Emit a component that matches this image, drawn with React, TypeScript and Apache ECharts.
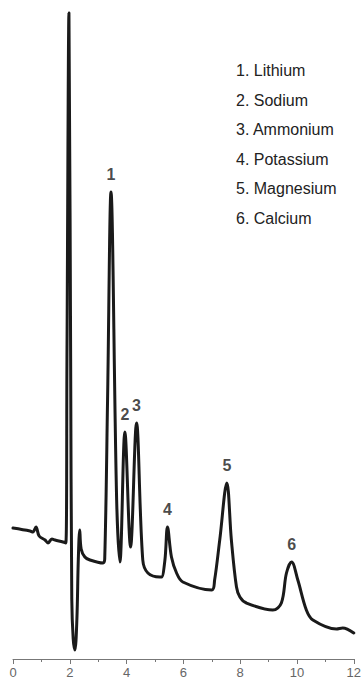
import React, { useEffect, useRef } from "react";
import * as echarts from "echarts";

// retention time (min)
const times = [
  0, 0.6, 0.7, 0.81, 0.92, 1.13, 1.23, 1.37, 1.48, 1.76, 1.86,
  1.9, 1.97, 2.03, 2.07, 2.12, 2.18, 2.25, 2.3, 2.35, 2.4, 2.53, 2.71, 3.17, 3.23,
  3.33, 3.45, 3.65, 3.765, 3.94, 4.14, 4.35, 4.57, 4.75, 5.17, 5.23, 5.35, 5.44, 5.58, 5.76, 5.98,
  7.0, 7.1, 7.28, 7.53, 7.69, 7.87, 7.99, 8.22, 9.15, 9.45, 9.63, 9.81, 10.03, 10.33, 10.56,
  11.39, 11.61, 12.0,
];
// detector response (arbitrary units)
const response = [
  131, 128, 127, 132, 123, 119, 116, 120, 119, 117, 116,
  300, 646, 300, 60, 20, 9, 40, 100, 129, 110, 102, 99, 96, 100,
  259, 467, 159, 97, 227, 112, 236, 99, 86, 82, 82, 99, 132, 102, 86, 77,
  69, 79, 119, 176, 119, 72, 62, 56, 49, 56, 86, 97, 79, 49, 39,
  30, 31, 26,
];

const peakNumbers = ["1", "2", "3", "4", "5", "6"];
const peakTimes = [3.45, 3.94, 4.35, 5.44, 7.53, 9.81];
const peakHeights = [467, 227, 236, 132, 176, 97];
const peakNames = ["Lithium", "Sodium", "Ammonium", "Potassium", "Magnesium", "Calcium"];

const xTicks = [0, 2, 4, 6, 8, 10, 12];

export default function App() {
  const ref = useRef<HTMLDivElement>(null);
  useEffect(() => {
    if (!ref.current) return;
    const chart = echarts.init(ref.current, null, { renderer: "svg" });
    const font = "'Liberation Sans', Arial, Helvetica, sans-serif";
    chart.setOption({
      animation: false,
      grid: { left: 13, right: 10, top: 0, bottom: 20 },
      xAxis: {
        type: "value",
        min: xTicks[0],
        max: xTicks[xTicks.length - 1],
        interval: xTicks[1] - xTicks[0],
        axisLine: { show: true, lineStyle: { color: "#777", width: 1 } },
        axisTick: { show: true, length: 5, lineStyle: { color: "#777" } },
        minorTick: { show: true, splitNumber: 2, length: 3, lineStyle: { color: "#777" } },
        splitLine: { show: false },
        minorSplitLine: { show: false },
        axisLabel: { fontSize: 13, color: "#666", margin: 7, fontFamily: font },
      },
      yAxis: { type: "value", min: 0, max: 659, show: false },
      series: [
        {
          type: "line",
          data: times.map((t, i) => [t, response[i]]),
          showSymbol: false,
          symbol: "none",
          smooth: 0.35,
          lineStyle: { color: "#1a1a1a", width: 3, join: "round", cap: "round" },
          clip: false,
        },
        {
          type: "scatter",
          data: peakTimes.map((t, i) => ({ name: peakNumbers[i], value: [t, peakHeights[i]] })),
          symbolSize: 0,
          label: {
            show: true,
            position: "top",
            distance: 10,
            formatter: "{b}",
            fontSize: 16,
            fontWeight: "bold",
            color: "#1a1a1a",
            fontFamily: font,
          },
        },
      ],
      graphic: peakNames.map((n, i) => ({
        type: "text",
        left: 236,
        top: 72 + i * 29.6 - 9.5,
        style: {
          text: `${peakNumbers[i]}. ${n}`,
          fontSize: 16,
          fill: "#222",
          fontFamily: font,
        },
      })),
    });
    return () => chart.dispose();
  }, []);
  return <div ref={ref} style={{ width: 364, height: 679, position: "absolute", left: 0, top: 0 }} />;
}
